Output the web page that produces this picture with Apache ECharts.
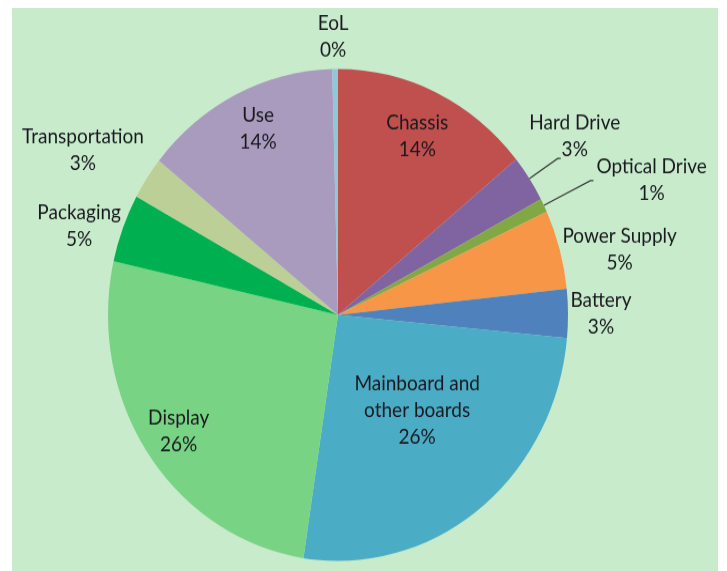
<!DOCTYPE html>
<html>
<head>
<meta charset="utf-8">
<script src="https://cdn.jsdelivr.net/npm/echarts@6/dist/echarts.min.js"></script>
<style>
  html, body { margin: 0; padding: 0; background: #fff; overflow: hidden; }
  .chart-bg { position: absolute; left: 12px; top: 8px; width: 706px; height: 563px; background: #c7ebcb; }
  /* the original pie is a bit taller than wide */
  #main { position: absolute; left: 0; top: 0; width: 727px; height: 534px; transform: scaleY(1.0693); transform-origin: 0 0; }
</style>
</head>
<body>
<div class="chart-bg"></div>
<div id="main"></div>
<script>
const categories = ["Chassis", "Hard Drive", "Optical Drive", "Power Supply", "Battery",
  "Mainboard and other boards", "Display", "Packaging", "Transportation", "Use", "EoL"];
const shares = [14.1, 3.1, 0.9, 5.2, 3.2, 25.9, 26.1, 4.5, 2.8, 13.8, 0.4];
const colors = ["#c0504d", "#8064a2", "#82a846", "#f79646", "#4f81bd",
  "#4bacc6", "#78d384", "#00b050", "#bccf97", "#a99bbd", "#8fc8da"];

// label placement (leader line lengths), excel puts the labels by hand
const labelPlacement = {
  "Chassis": { len: -45, len2: 0 },
  "Hard Drive": { len: 34, len2: 3, gap: 14, line: true, padBottom: 42 },
  "Optical Drive": { len: 52, len2: 3, gap: 3, line: true, align: "left" },
  "Power Supply": { len: 0, len2: 60 },
  "Battery": { len: 0, len2: 33 },
  "Mainboard and other boards": { len: -116, len2: 9 },
  "Display": { len: -37, len2: 0 },
  "Packaging": { len: 5, len2: 39 },
  "Transportation": { len: 47, len2: 25 },
  "Use": { len: -36, len2: -6 },
  "EoL": { len: 30, len2: 1.7 }
};

let myChart = echarts.init(document.getElementById("main"));

let pieData = categories.map((name, i) => {
  let p = labelPlacement[name];
  return {
    name: name,
    value: shares[i],
    itemStyle: { color: colors[i] },
    label: { distanceToLabelLine: p.gap || 0, padding: [0, 0, p.padBottom || 0, 0] },
    labelLine: { show: !!p.line, length: p.len, length2: p.len2 }
  };
});

let textStyle = {
  fontFamily: "Lato",
  fontSize: 19,
  lineHeight: 25,
  color: "#18181e"
};

let option = {
  animation: false,
  series: [
    {
      type: "pie",
      center: [338, 294.5],
      radius: [0, 230],
      startAngle: 90,
      clockwise: true,
      avoidLabelOverlap: false,
      silent: true,
      itemStyle: { borderWidth: 0 },
      label: {
        show: true,
        position: "outside",
        formatter: params => {
          let name = params.name.replace("and ", "and\n").split("\n");
          let lines = name.map(s => "{c|" + s + "}");
          lines.push("{c|" + Math.round(params.percent) + "%}");
          return lines.join("\n");
        },
        rich: {
          c: Object.assign({ align: "center" }, textStyle)
        },
        ...textStyle
      },
      labelLine: {
        lineStyle: { color: "#3a3a3a", width: 1.2 }
      },
      labelLayout: params => {
        let p = labelPlacement[categories[params.dataIndex]];
        return { align: p.align || "center", verticalAlign: "middle" };
      },
      data: pieData
    }
  ]
};

myChart.setOption(option);
</script>
</body>
</html>
